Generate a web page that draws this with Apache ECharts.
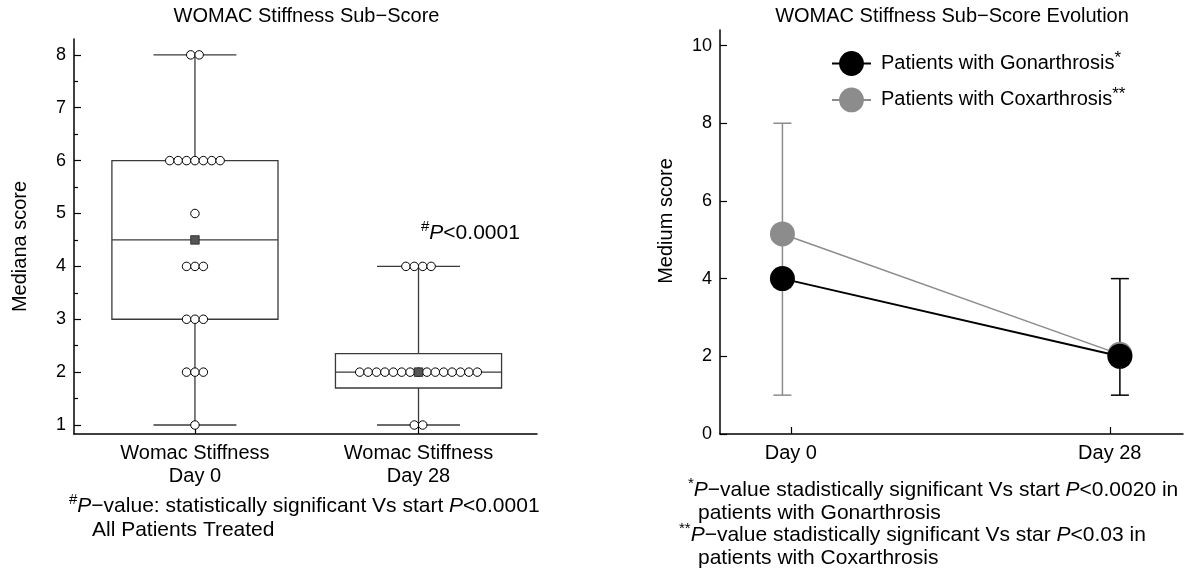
<!DOCTYPE html>
<html><head><meta charset="utf-8">
<style>html,body{margin:0;padding:0;background:#fff}#c{width:1191px;height:579px}</style>
<script src="https://cdn.jsdelivr.net/npm/echarts@6/dist/echarts.min.js"></script>
</head><body><div id="c"></div>
<script>
// ---------------- data ----------------
const boxCategories = ['Womac Stiffness\nDay 0', 'Womac Stiffness\nDay 28'];
const day0Scores = [8, 8, 6, 6, 6, 6, 6, 6, 6, 5, 4, 4, 4, 3, 3, 3, 2, 2, 2, 1];
const day28Scores = [4, 4, 4, 4, 2, 2, 2, 2, 2, 2, 2, 2, 2, 2, 2, 2, 2, 2, 2, 1, 1];
// [min, Q1, median, Q3, max]
const day0Box = [1, 3, 4.5, 6, 8];
const day28Box = [1, 1.7, 2, 2.35, 4];
const boxMeans = [4.5, 2.0];
const leftYTicks = [1, 2, 3, 4, 5, 6, 7, 8];

const evolutionDays = ['Day 0', 'Day 28'];
const seriesNames = ['Patients with Gonarthrosis', 'Patients with Coxarthrosis'];
const seriesMarks = ['*', '**'];
const gonarthrosis = [4.0, 2.0];
const coxarthrosis = [5.15, 2.05];
const errLow = [1, 1];
const errHigh = [8, 4];
const rightYTicks = [0, 2, 4, 6, 8, 10];

// ---------------- styles ----------------
const FONT = "'Liberation Sans', Arial, Helvetica, sans-serif";
const GRAY = '#8c8c8c';
const BOX_COLOR = '#3a3a3a';
const ERR_COLORS = [GRAY, '#000'];
const DOT_SPACING = 8.4;
const BOX_W = 0.743, CAP_W = 0.371;

function swarm(scores, xPos) {
  const counts = {}, seen = {};
  scores.forEach(v => counts[v] = (counts[v] || 0) + 1);
  return scores.map(v => {
    seen[v] = seen[v] === undefined ? 0 : seen[v] + 1;
    const n = counts[v];
    return { value: [xPos, v], symbolOffset: [(seen[v] - (n - 1) / 2) * DOT_SPACING, 0] };
  });
}

const halfTicks = leftYTicks.slice(0, -1).map(v => v + 0.5);
const dayTickPos = [0.025, 0.97];

const axisLineStyle = { show: true, onZero: false, lineStyle: { color: '#000', width: 1.5 } };
const tickStyle = { color: '#000', width: 1.2 };

const chart = echarts.init(document.getElementById('c'));
const option = {
  animation: false,
  backgroundColor: '#fff',
  textStyle: { fontFamily: FONT },
  grid: [
    { left: 74, right: 654, top: 39, bottom: 145 },
    { left: 720, right: 8, top: 30, bottom: 145 }
  ],
  xAxis: [
    {
      gridIndex: 0, type: 'value', min: -0.541, max: 1.53,
      axisLine: axisLineStyle,
      axisTick: { show: true, inside: true, length: 9, customValues: [0, 1], lineStyle: tickStyle },
      axisLabel: { customValues: [0, 1], formatter: v => boxCategories[Math.round(v)],
        fontSize: 20, lineHeight: 23, color: '#000', margin: 8, fontFamily: FONT },
      splitLine: { show: false }
    },
    {
      gridIndex: 1, type: 'value', min: -0.185, max: 1.187,
      axisLine: axisLineStyle,
      axisTick: { show: true, inside: true, length: 7, customValues: dayTickPos, lineStyle: tickStyle },
      axisLabel: { customValues: dayTickPos, formatter: v => evolutionDays[v < 0.5 ? 0 : 1],
        fontSize: 20, color: '#000', margin: 9, fontFamily: FONT },
      splitLine: { show: false }
    }
  ],
  yAxis: [
    {
      gridIndex: 0, type: 'value', position: 'left', min: 0.83, max: 8.3,
      axisLine: axisLineStyle,
      axisTick: { show: true, inside: true, length: 7, customValues: leftYTicks, lineStyle: tickStyle },
      axisLabel: { customValues: leftYTicks, fontSize: 18, color: '#000', margin: 8, fontFamily: FONT },
      splitLine: { show: false }
    },
    {
      gridIndex: 0, type: 'value', position: 'left', offset: 0, min: 0.83, max: 8.3,
      axisLine: { show: false, onZero: false },
      axisTick: { show: true, inside: true, length: 4, customValues: halfTicks, lineStyle: tickStyle },
      axisLabel: { show: false },
      splitLine: { show: false }
    },
    {
      gridIndex: 1, type: 'value', position: 'left', min: 0, max: 10.4,
      axisLine: axisLineStyle,
      axisTick: { show: true, inside: true, length: 7, customValues: rightYTicks, lineStyle: tickStyle },
      axisLabel: { customValues: rightYTicks, fontSize: 18, color: '#000', margin: 8, fontFamily: FONT },
      splitLine: { show: false }
    }
  ],
  legend: {
    orient: 'vertical', left: 831, top: 49.5, padding: 0,
    itemWidth: 39, itemHeight: 31, itemGap: 10,
    data: seriesNames,
    formatter: name => '{t|' + name + '}{s|' + seriesMarks[seriesNames.indexOf(name)] + '}',
    textStyle: {
      fontFamily: FONT, color: '#000',
      rich: {
        t: { fontSize: 20, fontFamily: FONT, color: '#000', padding: [0, 0, 0, 5], lineHeight: 28 },
        s: { fontSize: 17, fontFamily: FONT, color: '#000', verticalAlign: 'top', lineHeight: 17 }
      }
    }
  },
  series: [
    {
      type: 'custom', name: 'box', xAxisIndex: 0, yAxisIndex: 0, z: 1,
      data: [[0].concat(day0Box), [1].concat(day28Box)],
      encode: { x: 0, y: [1, 2, 3, 4, 5] },
      renderItem: function (params, api) {
        const x = api.value(0);
        const pLo = api.coord([x, api.value(1)]);
        const pQ1 = api.coord([x, api.value(2)]);
        const pMed = api.coord([x, api.value(3)]);
        const pQ3 = api.coord([x, api.value(4)]);
        const pHi = api.coord([x, api.value(5)]);
        const hb = api.size([BOX_W, 0])[0] / 2;
        const hc = api.size([CAP_W, 0])[0] / 2;
        const cx = pLo[0];
        const st = { stroke: BOX_COLOR, lineWidth: 1.3, fill: null };
        return {
          type: 'group', children: [
            { type: 'rect', shape: { x: cx - hb, y: pQ3[1], width: 2 * hb, height: pQ1[1] - pQ3[1] },
              style: { stroke: BOX_COLOR, lineWidth: 1.3, fill: '#fff' } },
            { type: 'line', shape: { x1: cx - hb, y1: pMed[1], x2: cx + hb, y2: pMed[1] }, style: st },
            { type: 'line', shape: { x1: cx, y1: pQ3[1], x2: cx, y2: pHi[1] }, style: st },
            { type: 'line', shape: { x1: cx, y1: pQ1[1], x2: cx, y2: pLo[1] }, style: st },
            { type: 'line', shape: { x1: cx - hc, y1: pHi[1], x2: cx + hc, y2: pHi[1] }, style: st },
            { type: 'line', shape: { x1: cx - hc, y1: pLo[1], x2: cx + hc, y2: pLo[1] }, style: st }
          ]
        };
      }
    },
    {
      type: 'scatter', name: 'scores', xAxisIndex: 0, yAxisIndex: 0, z: 3,
      symbol: 'circle', symbolSize: 8.5,
      itemStyle: { color: '#fff', borderColor: '#000', borderWidth: 1, opacity: 1 },
      data: swarm(day0Scores, 0).concat(swarm(day28Scores, 1))
    },
    {
      type: 'scatter', name: 'mean', xAxisIndex: 0, yAxisIndex: 0, z: 4,
      symbol: 'rect', symbolSize: 8.5,
      itemStyle: { color: '#555', borderColor: '#222', borderWidth: 0.8, opacity: 1 },
      data: boxMeans.map((m, i) => [i, m])
    },
    {
      type: 'custom', name: 'err', xAxisIndex: 1, yAxisIndex: 2, z: 1,
      data: errLow.map((lo, i) => [i, lo, errHigh[i]]),
      encode: { x: 0, y: [1, 2] },
      renderItem: function (params, api) {
        const x = api.value(0);
        const pL = api.coord([x, api.value(1)]);
        const pH = api.coord([x, api.value(2)]);
        const col = ERR_COLORS[params.dataIndex];
        const st = { stroke: col, lineWidth: 1.5, fill: null };
        const cx = pL[0];
        return {
          type: 'group', children: [
            { type: 'line', shape: { x1: cx, y1: pL[1], x2: cx, y2: pH[1] }, style: st },
            { type: 'line', shape: { x1: cx - 9, y1: pL[1], x2: cx + 9, y2: pL[1] }, style: st },
            { type: 'line', shape: { x1: cx - 9, y1: pH[1], x2: cx + 9, y2: pH[1] }, style: st }
          ]
        };
      }
    },
    {
      type: 'line', name: seriesNames[1], xAxisIndex: 1, yAxisIndex: 2, z: 2,
      data: coxarthrosis.map((v, i) => [i, v]),
      symbol: 'circle', symbolSize: 25, showSymbol: true,
      lineStyle: { color: GRAY, width: 1.5 },
      itemStyle: { color: GRAY, borderWidth: 0 }
    },
    {
      type: 'line', name: seriesNames[0], xAxisIndex: 1, yAxisIndex: 2, z: 3,
      data: gonarthrosis.map((v, i) => [i, v]),
      symbol: 'circle', symbolSize: 25, showSymbol: true,
      lineStyle: { color: '#000', width: 2 },
      itemStyle: { color: '#000', borderWidth: 0 }
    }
  ],
  graphic: (function () {
    const base = { fontFamily: FONT, fill: '#000', fontSize: 20 };
    const rich = {
      n: { fontSize: 21, fontFamily: FONT, fill: '#000', lineHeight: 28 },
      i: { fontSize: 21, fontFamily: FONT, fill: '#000', fontStyle: 'italic', lineHeight: 28 },
      s: { fontSize: 15, fontFamily: FONT, fill: '#000', verticalAlign: 'top', lineHeight: 15 }
    };
    function txt(x, y, text, extra) {
      return { type: 'text', x: x, y: y, silent: true,
        style: Object.assign({}, base, { text: text, rich: rich, align: 'left', verticalAlign: 'middle' }, extra || {}) };
    }
    return [
      txt(306.5, 16.5, 'WOMAC Stiffness Sub−Score', { align: 'center' }),
      txt(952, 16.5, 'WOMAC Stiffness Sub−Score Evolution', { align: 'center' }),
      { type: 'text', x: 20, y: 246.5, rotation: Math.PI / 2, silent: true,
        style: Object.assign({}, base, { text: 'Mediana score', align: 'center', verticalAlign: 'middle' }) },
      { type: 'text', x: 666, y: 221, rotation: Math.PI / 2, silent: true,
        style: Object.assign({}, base, { text: 'Medium score', align: 'center', verticalAlign: 'middle' }) },
      txt(421, 233, '{s|#}{i|P}{n|<0.0001}'),
      txt(69, 506, '{s|#}{i|P}{n|−value: statistically significant Vs start }{i|P}{n|<0.0001}'),
      txt(92, 530, '{n|All Patients Treated}'),
      txt(688, 490, '{s|*}{i|P}{n|−value stadistically significant Vs start }{i|P}{n|<0.0020 in}'),
      txt(698, 513, '{n|patients with Gonarthrosis}'),
      txt(679, 535, '{s|**}{i|P}{n|−value stadistically significant Vs star }{i|P}{n|<0.03 in}'),
      txt(698, 558, '{n|patients with Coxarthrosis}')
    ];
  })()
};
chart.setOption(option);
</script>
</body></html>
